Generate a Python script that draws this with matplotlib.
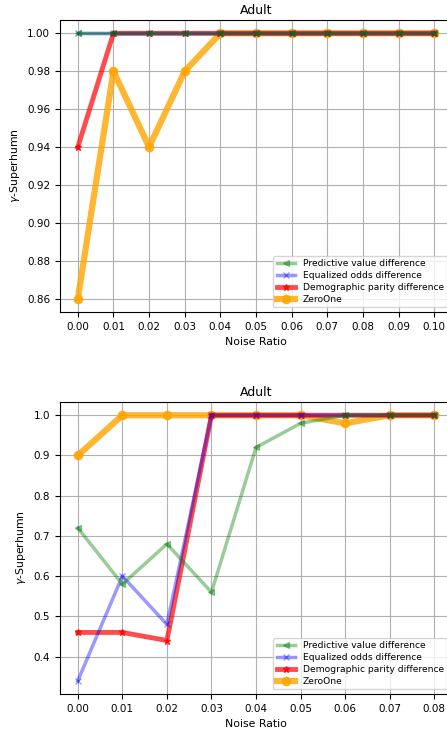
import numpy as np
import matplotlib
matplotlib.use("Agg")
from matplotlib import pyplot as plt

# top panel data
x_top = [0.00, 0.01, 0.02, 0.03, 0.04, 0.05, 0.06, 0.07, 0.08, 0.09, 0.10]
pv_top = [1.0, 1.0, 1.0, 1.0, 1.0, 1.0, 1.0, 1.0, 1.0, 1.0, 1.0]
eo_top = [1.0, 1.0, 1.0, 1.0, 1.0, 1.0, 1.0, 1.0, 1.0, 1.0, 1.0]
dp_top = [0.94, 1.0, 1.0, 1.0, 1.0, 1.0, 1.0, 1.0, 1.0, 1.0, 1.0]
zo_top = [0.86, 0.98, 0.94, 0.98, 1.0, 1.0, 1.0, 1.0, 1.0, 1.0, 1.0]

# bottom panel data
x_bot = [0.00, 0.01, 0.02, 0.03, 0.04, 0.05, 0.06, 0.07, 0.08]
pv_bot = [0.72, 0.58, 0.68, 0.56, 0.92, 0.98, 1.0, 1.0, 1.0]
eo_bot = [0.34, 0.60, 0.48, 1.0, 1.0, 1.0, 1.0, 1.0, 1.0]
dp_bot = [0.46, 0.46, 0.44, 1.0, 1.0, 1.0, 1.0, 1.0, 1.0]
zo_bot = [0.90, 1.0, 1.0, 1.0, 1.0, 1.0, 0.98, 1.0, 1.0]

W, H = 447, 732
fig = plt.figure(figsize=(W/100, H/100), dpi=100)

def panel(rect, x, pv, eo, dp, zo):
    ax = fig.add_axes(rect)
    ax.plot(x, pv, color="green", marker="<", lw=2.5, ms=5, alpha=0.4, label="Predictive value difference", zorder=4)
    ax.plot(x, eo, color="blue", marker="x", lw=2.5, ms=5, alpha=0.4, label="Equalized odds difference", zorder=3)
    ax.plot(x, dp, color="red", marker="*", lw=3.5, ms=5, alpha=0.7, label="Demographic parity difference", zorder=2.5)
    ax.plot(x, zo, color="orange", marker="o", lw=4.5, ms=6, alpha=0.8, label="ZeroOne", zorder=2)
    ax.set_xticks(x)
    ax.grid(True)
    ax.tick_params(labelsize=7.5)
    ax.set_title("Adult", fontsize=9, pad=4)
    ax.set_xlabel("Noise Ratio", fontsize=7.8)
    ax.set_ylabel(r"$\gamma$-Superhumn", fontsize=7.8)
    ax.legend(loc="lower right", fontsize=6.6, labelspacing=0.3)
    return ax

left = 60/W
wid = (452-60)/W
ax1 = panel([left, 1-312/H, wid, (312-20)/H], x_top, pv_top, eo_top, dp_top, zo_top)
ax1.yaxis.set_major_formatter(matplotlib.ticker.FormatStrFormatter("%.2f"))
ax2 = panel([left, 1-694/H, wid, (694-402)/H], x_bot, pv_bot, eo_bot, dp_bot, zo_bot)

fig.savefig("out.png", dpi=100)
